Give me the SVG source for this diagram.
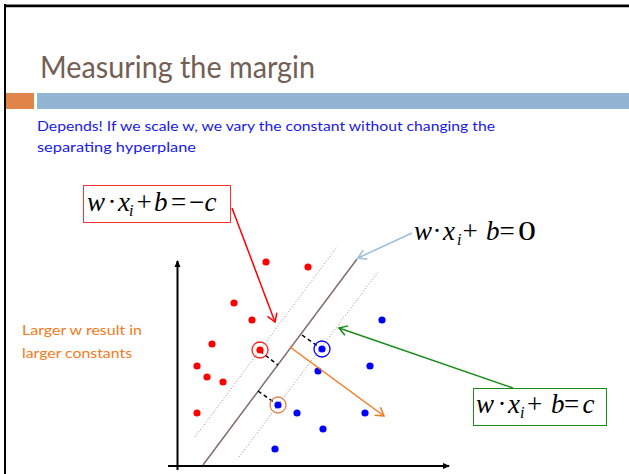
<svg xmlns="http://www.w3.org/2000/svg" width="629" height="474" viewBox="0 0 629 474">
<style>
.eq{font-family:"Liberation Serif","Times New Roman",serif;font-size:27px;fill:#000}
.it{font-style:italic}
.sub{font-style:italic;font-size:16px}
.body{font-family:"Lato","Open Sans",sans-serif;font-size:14px}
.red{fill:#ff0000}
.blue{fill:#0000ff}
.dash{stroke:#000;stroke-width:1.5;stroke-dasharray:4,3;fill:none}
.dot{stroke:#a08c84;stroke-width:1;stroke-dasharray:1,2;fill:none}
</style>
<defs>
<marker id="aRed" markerWidth="12" markerHeight="12" refX="10" refY="6" orient="auto" markerUnits="userSpaceOnUse"><path d="M2,1 L10,6 L2,11" fill="none" stroke="#ff0000" stroke-width="1.5"/></marker>
<marker id="aGreen" markerWidth="12" markerHeight="12" refX="10" refY="6" orient="auto" markerUnits="userSpaceOnUse"><path d="M2,1 L10,6 L2,11" fill="none" stroke="#1a8c1a" stroke-width="1.5"/></marker>
<marker id="aOrange" markerWidth="12" markerHeight="12" refX="10" refY="6" orient="auto" markerUnits="userSpaceOnUse"><path d="M2,1 L10,6 L2,11" fill="none" stroke="#f57a20" stroke-width="1.5"/></marker>
<marker id="aLight" markerWidth="12" markerHeight="12" refX="10" refY="6" orient="auto" markerUnits="userSpaceOnUse"><path d="M2,1 L10,6 L2,11" fill="none" stroke="#9cbcd8" stroke-width="1.5"/></marker>
<marker id="aAxis" markerWidth="8" markerHeight="8" refX="6" refY="4" orient="auto" markerUnits="userSpaceOnUse"><path d="M0,1 L7,4 L0,7 Z" fill="#000"/></marker>
</defs>
<rect width="629" height="474" fill="#fff"/>
<g id="slide-frame">
<line x1="4" y1="4.4" x2="629" y2="4.4" stroke="#999" stroke-width="0.8"/>
<line x1="4" y1="6" x2="629" y2="6" stroke="#000" stroke-width="2.6"/>
<line x1="5" y1="4" x2="5" y2="474" stroke="#000" stroke-width="2"/>
</g>
<g id="title">
<text x="40" y="78" font-family="Lato,'Open Sans',sans-serif" font-size="30" fill="#735f55" textLength="275" lengthAdjust="spacingAndGlyphs">Measuring the margin</text>
<rect x="6" y="93" width="28" height="16" fill="#e0844a"/>
<rect x="37" y="93" width="592" height="16" fill="#94b4d4"/>
</g>
<g id="description">
<text class="body" x="37" y="131" fill="#1a1ae6" textLength="458" lengthAdjust="spacingAndGlyphs">Depends! If we scale w, we vary the constant without changing the</text>
<text class="body" x="37" y="152" fill="#1a1ae6" textLength="159" lengthAdjust="spacingAndGlyphs">separating hyperplane</text>
</g>
<g id="note">
<text class="body" x="22" y="335" fill="#f57a20" textLength="120" lengthAdjust="spacingAndGlyphs">Larger w result in</text>
<text class="body" x="22" y="358" fill="#f57a20" textLength="110" lengthAdjust="spacingAndGlyphs">larger constants</text>
</g>
<g id="chart">
<line x1="177.5" y1="470" x2="177.5" y2="261" stroke="#000" stroke-width="2" marker-end="url(#aAxis)"/>
<line x1="168" y1="466" x2="449" y2="466" stroke="#000" stroke-width="2" marker-end="url(#aAxis)"/>
<line class="dot" x1="195" y1="437" x2="337" y2="247"/>
<line class="dot" x1="239" y1="457" x2="378" y2="272"/>
<line x1="203" y1="465" x2="357" y2="259" stroke="#7f6f68" stroke-width="1.5"/>
<line class="dash" x1="260" y1="351" x2="278" y2="365"/>
<line class="dash" x1="302" y1="335" x2="322" y2="349"/>
<line class="dash" x1="258" y1="391" x2="278" y2="405"/>
<g class="red">
<circle cx="266" cy="262" r="3.6"/><circle cx="308" cy="267" r="3.6"/><circle cx="234" cy="303" r="3.6"/>
<circle cx="252" cy="320" r="3.6"/><circle cx="212" cy="344" r="3.6"/><circle cx="260" cy="350" r="3.6"/>
<circle cx="197" cy="366" r="3.6"/><circle cx="207" cy="377" r="3.6"/><circle cx="223" cy="382" r="3.6"/>
<circle cx="197" cy="413" r="3.6"/>
</g>
<g class="blue">
<circle cx="382" cy="320" r="3.6"/><circle cx="322" cy="349" r="3.6"/><circle cx="318" cy="371" r="3.6"/>
<circle cx="370" cy="366" r="3.6"/><circle cx="278" cy="405" r="3.6"/><circle cx="297" cy="413" r="3.6"/>
<circle cx="365" cy="413" r="3.6"/><circle cx="323" cy="429" r="3.6"/><circle cx="275" cy="449" r="3.6"/>
</g>
<circle cx="260" cy="350" r="8" fill="none" stroke="#ff2020" stroke-width="1.3"/>
<circle cx="322" cy="349" r="8" fill="none" stroke="#0000ff" stroke-width="1.3"/>
<circle cx="278" cy="405" r="8" fill="none" stroke="#e08050" stroke-width="1.3"/>
</g>
<g id="connectors">
<line x1="232" y1="208" x2="275" y2="322" stroke="#ff0000" stroke-width="1.5" marker-end="url(#aRed)"/>
<line x1="412" y1="233" x2="358" y2="258" stroke="#9cbcd8" stroke-width="1.5" marker-end="url(#aLight)"/>
<line x1="513" y1="388" x2="339" y2="328" stroke="#1a8c1a" stroke-width="1.5" marker-end="url(#aGreen)"/>
<line x1="290" y1="347" x2="384" y2="416" stroke="#f57a20" stroke-width="1.5" marker-end="url(#aOrange)"/>
</g>
<g id="box-minus-c">
<rect x="83.5" y="185.5" width="147" height="37" fill="#fff" stroke="#ff3030" stroke-width="1"/>
<text class="eq" y="211"><tspan class="it" x="87">w</tspan><tspan x="107.5">·</tspan><tspan class="it" x="118">x</tspan><tspan class="sub" x="129" dy="5">i</tspan><tspan x="136.5" dy="-5">+</tspan><tspan class="it" x="154">b</tspan><tspan x="171">=</tspan><tspan x="189">−</tspan><tspan class="it" x="204.5">c</tspan></text>
</g>
<g id="label-zero">
<text class="eq" y="240"><tspan class="it" x="414">w</tspan><tspan x="432.5">·</tspan><tspan class="it" x="443">x</tspan><tspan class="sub" x="457" dy="5">i</tspan><tspan x="462.5" dy="-5">+</tspan><tspan class="it" x="486">b</tspan><tspan x="499.5">=</tspan><tspan x="518" textLength="18" lengthAdjust="spacingAndGlyphs">0</tspan></text>
</g>
<g id="box-plus-c">
<rect x="473.5" y="388.5" width="133" height="37" fill="#fff" stroke="#1a8c1a" stroke-width="1"/>
<text class="eq" y="413"><tspan class="it" x="476">w</tspan><tspan x="497.5">·</tspan><tspan class="it" x="508">x</tspan><tspan class="sub" x="520" dy="5">i</tspan><tspan x="527" dy="-5">+</tspan><tspan class="it" x="551">b</tspan><tspan x="564">=</tspan><tspan class="it" x="582.5">c</tspan></text>
</g>
</svg>
